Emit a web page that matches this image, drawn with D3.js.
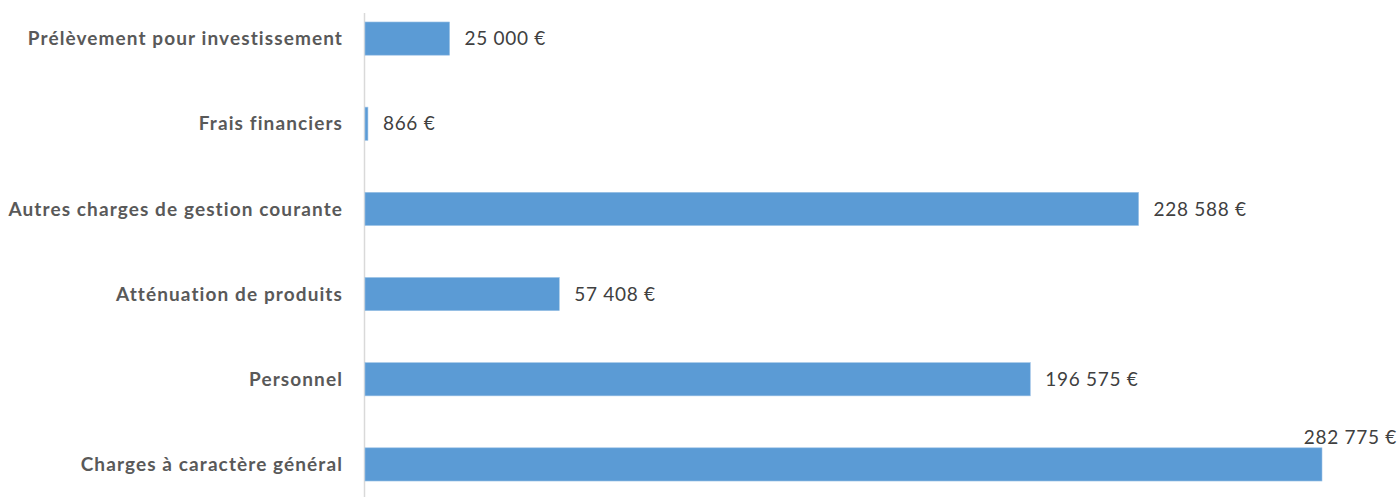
<!DOCTYPE html>
<html>
<head>
<meta charset="utf-8">
<script src="https://cdn.jsdelivr.net/npm/d3@7"></script>
<style>
  body { margin: 0; background: #fff; }
  svg { display: block; }
</style>
</head>
<body>
<script>
// data, top to bottom
var categories = [
  "Prélèvement pour investissement",
  "Frais financiers",
  "Autres charges de gestion courante",
  "Atténuation de produits",
  "Personnel",
  "Charges à caractère général"
];
var values = [25000, 866, 228588, 57408, 196575, 282775];
var valueLabels = ["25 000 €", "866 €", "228 588 €", "57 408 €", "196 575 €", "282 775 €"];

var width = 1400, height = 497;
var axisX = 365;

var svg = d3.select("body").append("svg")
  .attr("width", width)
  .attr("height", height);

var x = d3.scaleLinear()
  .domain([0, 282775])
  .range([axisX, 1322]);

var y = d3.scaleBand()
  .domain(categories)
  .range([-4, 507])
  .paddingInner(0.61)
  .paddingOuter(0.305);

// vertical axis line
svg.append("line")
  .attr("x1", axisX - 0.5).attr("x2", axisX - 0.5)
  .attr("y1", 13).attr("y2", height)
  .attr("stroke", "#d9d9d9")
  .attr("stroke-width", 1.5);

svg.append("g")
  .selectAll("rect")
  .data(values)
  .enter()
  .append("rect")
  .attr("x", x(0))
  .attr("y", function (d, i) { return y(categories[i]); })
  .attr("width", function (d) { return x(d) - x(0); })
  .attr("height", y.bandwidth())
  .attr("fill", "#5b9bd5")
  .attr("stroke", "#9dc3e6")
  .attr("stroke-width", 0.6);

// category labels
svg.append("g")
  .selectAll("text")
  .data(categories)
  .enter()
  .append("text")
  .attr("x", 343)
  .attr("y", function (d) { return y(d) + y.bandwidth() / 2; })
  .attr("dy", "0.35em")
  .attr("text-anchor", "end")
  .attr("font-family", "Lato, 'Open Sans', sans-serif")
  .attr("font-weight", "700")
  .attr("font-size", "19px")
  .attr("letter-spacing", "1.1px")
  .attr("fill", "#595959")
  .text(function (d) { return d; });

// value labels
svg.append("g")
  .selectAll("text")
  .data(values)
  .enter()
  .append("text")
  .attr("x", function (d, i) {
    return i === 5 ? width - 3 : x(d) + 15;
  })
  .attr("y", function (d, i) {
    var mid = y(categories[i]) + y.bandwidth() / 2;
    return i === 5 ? mid - 27 : mid;
  })
  .attr("dy", "0.35em")
  .attr("text-anchor", function (d, i) { return i === 5 ? "end" : "start"; })
  .attr("font-family", "Lato, 'Open Sans', sans-serif")
  .attr("font-size", "19px")
  .attr("letter-spacing", "0.7px")
  .attr("fill", "#404040")
  .text(function (d, i) { return valueLabels[i]; });
</script>
</body>
</html>
